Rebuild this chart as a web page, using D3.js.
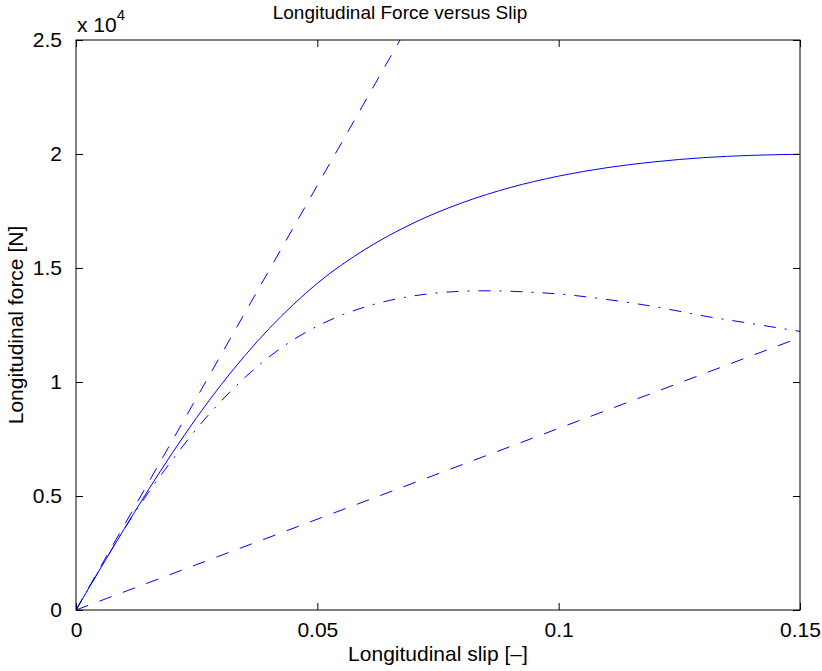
<!DOCTYPE html>
<html>
<head>
<meta charset="utf-8">
<script src="https://cdn.jsdelivr.net/npm/d3@7"></script>
<style>
  body { margin: 0; background: #fff; }
  svg { font-family: "Liberation Sans", Arial, sans-serif; }
</style>
</head>
<body>
<svg id="chart"></svg>
<script>
// slip values [-] shared by the curved series
const slip = [0, 0.005, 0.01, 0.015, 0.02, 0.025, 0.03, 0.035, 0.04, 0.045, 0.05,
              0.06, 0.07, 0.08, 0.09, 0.1, 0.11, 0.12, 0.13, 0.14, 0.15];
// solid curve, force [N]
const forceSolid = [0, 1800, 3560, 5270, 6900, 8440, 9860, 11160, 12340, 13390, 14330,
                    15830, 16980, 17860, 18530, 19030, 19400, 19660, 19840, 19940, 19990];
// dash-dot curve, force [N]
const slipDashDot = [0, 0.005, 0.01, 0.015, 0.02, 0.025, 0.03, 0.035, 0.04, 0.045, 0.05,
                     0.055, 0.06, 0.065, 0.07, 0.075, 0.08, 0.085, 0.09, 0.095, 0.1,
                     0.11, 0.12, 0.13, 0.14, 0.15];
const forceDashDot = [0, 1800, 3550, 5150, 6600, 7950, 9150, 10200, 11100, 11850, 12450,
                      12930, 13300, 13580, 13780, 13910, 13980, 14000, 13980, 13930, 13860,
                      13620, 13300, 12900, 12560, 12220];
// straight dashed lines
const slipLine = [0, 0.15];
const forceSteep = [0, 55860];
const forceShallow = [0, 11950];

const xTicks = [0, 0.05, 0.1, 0.15];
const xTickLabels = ['0', '0.05', '0.1', '0.15'];
const yTicks = [0, 5000, 10000, 15000, 20000, 25000];
const yTickLabels = ['0', '0.5', '1', '1.5', '2', '2.5'];

const width = 822;
const height = 671;
const padL = 76, padR = 800, padT = 40, padB = 610;
const blue = '#0000ff';

const svg = d3.select('#chart')
    .attr('width', width)
    .attr('height', height);

const x = d3.scaleLinear().domain([0, 0.15]).range([padL, padR]);
const y = d3.scaleLinear().domain([0, 25000]).range([padB, padT]);

svg.append('clipPath').attr('id', 'plot-clip')
    .append('rect')
    .attr('x', padL).attr('y', padT)
    .attr('width', padR - padL).attr('height', padB - padT);

const line = d3.line().x(d => x(d[0])).y(d => y(d[1])).curve(d3.curveMonotoneX);

const series = [
    { xs: slipLine, ys: forceSteep, dash: '13,12' },
    { xs: slip, ys: forceSolid, dash: null },
    { xs: slipDashDot, ys: forceDashDot, dash: '12,9,2,9' },
    { xs: slipLine, ys: forceShallow, dash: '13,12' }
];

const plot = svg.append('g').attr('clip-path', 'url(#plot-clip)');
series.forEach(s => {
    plot.append('path')
        .datum(s.xs.map((v, i) => [v, s.ys[i]]))
        .attr('d', line)
        .attr('fill', 'none')
        .attr('stroke', blue)
        .attr('stroke-width', 1)
        .attr('stroke-dasharray', s.dash);
});

// axes with inward ticks on all four sides
const tickLen = 7;
const xFmt = (d, i) => xTickLabels[i];
const yFmt = (d, i) => yTickLabels[i];

svg.append('g')
    .attr('transform', 'translate(0,' + padB + ')')
    .call(d3.axisBottom(x).tickValues(xTicks).tickFormat(xFmt)
        .tickSizeInner(-tickLen).tickSizeOuter(0).tickPadding(12));
svg.append('g')
    .attr('transform', 'translate(0,' + padT + ')')
    .call(d3.axisTop(x).tickValues(xTicks).tickFormat('')
        .tickSizeInner(-tickLen).tickSizeOuter(0));
svg.append('g')
    .attr('transform', 'translate(' + padL + ',0)')
    .call(d3.axisLeft(y).tickValues(yTicks).tickFormat(yFmt)
        .tickSizeInner(-tickLen).tickSizeOuter(0).tickPadding(14));
svg.append('g')
    .attr('transform', 'translate(' + padR + ',0)')
    .call(d3.axisRight(y).tickValues(yTicks).tickFormat('')
        .tickSizeInner(-tickLen).tickSizeOuter(0));

svg.selectAll('.tick text')
    .attr('font-size', 21)
    .attr('font-family', '"Liberation Sans", Arial, sans-serif')
    .attr('fill', '#000');
svg.selectAll('.domain').remove();
svg.selectAll('.tick line').attr('stroke', '#000');

svg.append('rect')
    .attr('x', padL).attr('y', padT)
    .attr('width', padR - padL).attr('height', padB - padT)
    .attr('fill', 'none')
    .attr('stroke', '#000')
    .attr('stroke-width', 1);

// exponent
const expo = svg.append('text')
    .attr('x', 77).attr('y', 32)
    .attr('font-size', 21);
expo.append('tspan').text('x 10');
expo.append('tspan').attr('dy', -12).attr('font-size', 15).text('4');

svg.append('text')
    .attr('x', 400).attr('y', 19)
    .attr('text-anchor', 'middle')
    .attr('font-size', 19)
    .text('Longitudinal Force versus Slip');

svg.append('text')
    .attr('x', (padL + padR) / 2).attr('y', 661)
    .attr('text-anchor', 'middle')
    .attr('font-size', 21)
    .text('Longitudinal slip [\u2013]');

svg.append('text')
    .attr('transform', 'translate(23,' + ((padT + padB) / 2) + ') rotate(-90)')
    .attr('text-anchor', 'middle')
    .attr('font-size', 21)
    .text('Longitudinal force [N]');
</script>
</body>
</html>
